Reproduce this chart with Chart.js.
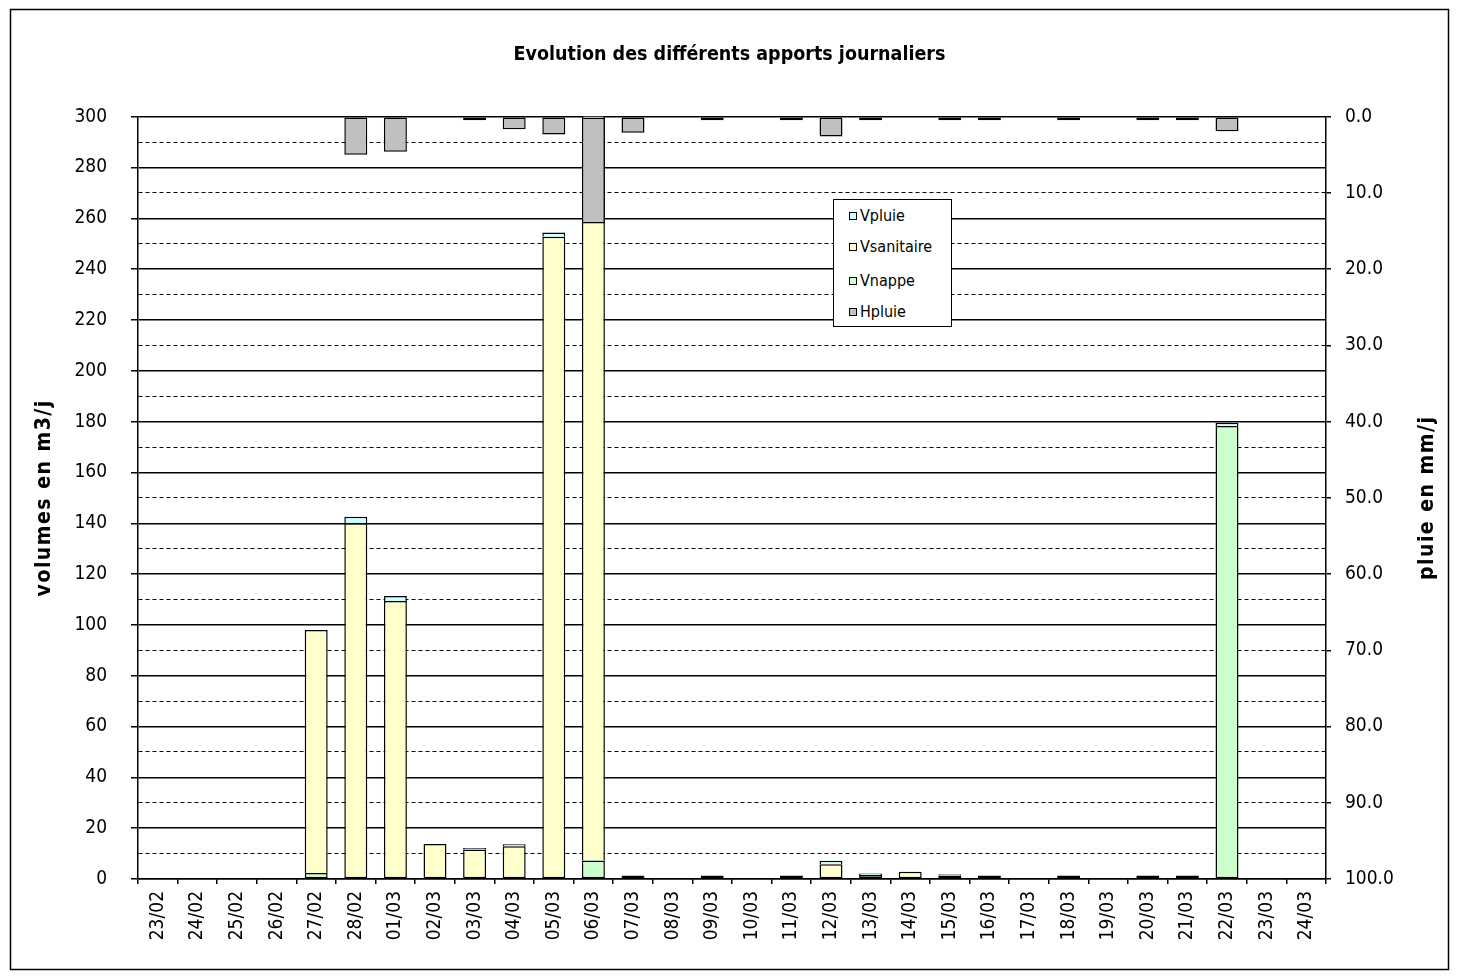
<!DOCTYPE html>
<html><head><meta charset="utf-8">
<script src="https://cdn.jsdelivr.net/npm/chart.js@4.4.1/dist/chart.umd.min.js"></script>
<style>
html,body{margin:0;padding:0;background:#fff;}
#wrap{position:relative;width:1459px;height:979px;}
canvas{display:block;}
#legend{position:absolute;left:833px;top:199px;width:117px;height:126px;border:1.5px solid #000;background:#fff;
 font-family:'DejaVu Sans Condensed','DejaVu Sans',sans-serif;font-size:16px;color:#000;}
#legend .it{position:absolute;left:15px;height:20px;line-height:20px;white-space:nowrap;}
#legend .sw{display:inline-block;width:6px;height:6px;border:1.5px solid #000;margin-right:3px;vertical-align:middle;position:relative;top:-1px;}
</style></head>
<body><div id="wrap"><canvas id="c" width="1459" height="979"></canvas><div id="legend"></div></div>
<script>
const FONT = "'DejaVu Sans Condensed','DejaVu Sans',sans-serif";
const categories = ['23/02','24/02','25/02','26/02','27/02','28/02','01/03','02/03','03/03','04/03','05/03','06/03','07/03','08/03','09/03','10/03','11/03','12/03','13/03','14/03','15/03','16/03','17/03','18/03','19/03','20/03','21/03','22/03','23/03','24/03'];
const vnappe     = [0,0,0,0,2.4,0,0,0,0,0,0,7.3,0,0,0,0,0,0,0,0,0,0,0,0,0,0,0,178.3,0,0];
const vsanitaire = [0,0,0,0,95.6,140.0,109.4,13.8,11.6,12.9,252.8,295,0,0,0.9,0,0.9,5.8,1.6,2.9,1.0,0.8,0,0.8,0,0.8,0.8,0,0,0];
const vpluie     = [0,0,0,0,0,2.6,2.0,0,0.6,0.8,1.6,3,1.4,0,0,0,0,1.4,0.6,0,0.5,0,0,0,0,0,0,1.3,0,0];
const hpluie     = [0,0,0,0,0,5.0,4.6,0,0.3,1.65,2.35,14.0,2.1,0,0.3,0,0.3,2.6,0.3,0,0.3,0.3,0,0.3,0,0.3,0.3,1.9,0,0];
const leftMax = 300, leftStep = 10, leftLabelStep = 20;
const rightMax = 100, rightStep = 10;
const titleText = 'Evolution des différents apports journaliers';
const leftTitle = 'volumes en m3/j';
const rightTitle = 'pluie en mm/j';

const nz = a => a.map(v => v === 0 ? null : v);
const barCommon = {borderColor:'#000', borderWidth:1.5, barPercentage:0.58, categoryPercentage:1.0, inflateAmount:0};
// skip the lower edge of a stacked segment only when another segment sits below it
const below = (arrs) => ctx => (arrs.some(a => a[ctx.dataIndex] > 0) ? 'start' : false);

function vText(c, text, x, y){
  c.save(); c.translate(x, y); c.rotate(-Math.PI/2);
  c.font = "bold 21px " + FONT; c.fillStyle='#000'; c.textAlign='center'; c.textBaseline='middle';
  try { c.letterSpacing = '1.5px'; } catch(e) {}
  c.fillText(text, 0, 0); c.restore();
}
const framePlugin = {
  id:'frame',
  beforeDraw(chart){
    const c = chart.ctx; c.save(); c.fillStyle='#fff'; c.fillRect(0,0,chart.width,chart.height);
    c.strokeStyle='#000'; c.lineWidth=1.5; c.strokeRect(10.5,9.5,1438,960); c.restore();
  },
  afterDraw(chart){
    const a = chart.chartArea; const cy = (a.top + a.bottom) / 2;
    vText(chart.ctx, leftTitle, 45, cy);
    vText(chart.ctx, rightTitle, 1428, cy);
  }
};

Chart.defaults.font.family = FONT;
Chart.defaults.color = '#000';
const chart = new Chart(document.getElementById('c'), {
  type:'bar',
  data:{
    labels: categories,
    datasets:[
      Object.assign({label:'Hpluie', data:nz(hpluie), backgroundColor:'#C0C0C0', yAxisID:'y2', borderSkipped:false, minBarLength:3.5}, barCommon),
      Object.assign({label:'Vnappe', data:nz(vnappe), backgroundColor:'#CCFFCC', yAxisID:'y', borderSkipped:false, minBarLength:3.5}, barCommon),
      Object.assign({label:'Vsanitaire', data:nz(vsanitaire), backgroundColor:'#FFFFCC', yAxisID:'y', borderSkipped:below([vnappe]), minBarLength:3.5}, barCommon),
      Object.assign({label:'Vpluie', data:nz(vpluie), backgroundColor:'#CCFFFF', yAxisID:'y', borderSkipped:below([vnappe, vsanitaire])}, barCommon)
    ]
  },
  options:{
    responsive:false, animation:false, devicePixelRatio:1,
    layout:{padding:{top:0,left:0,right:0,bottom:0}},
    plugins:{
      legend:{display:false}, tooltip:{enabled:false},
      title:{display:true, text:titleText, color:'#000',
        font:{size:19.5, weight:'bold', family:FONT}, padding:{top:43.3,bottom:50}}
    },
    scales:{
      x:{stacked:true,
        ticks:{minRotation:90, maxRotation:90, autoSkip:false, padding:7, font:{size:19}},
        grid:{drawOnChartArea:false, tickLength:5, color:'#000', lineWidth:1.5},
        border:{color:'#000', width:1.5},
        afterFit(s){ s.height = 100; }
      },
      y:{position:'left', stacked:true, min:0, max:leftMax,
        ticks:{stepSize:leftStep, autoSkip:false, padding:24, font:{size:19},
          callback:v => (v % leftLabelStep === 0 ? v : '')},
        grid:{color:'#000', lineWidth:ctx => (ctx.tick && ctx.tick.value % leftLabelStep === 0 ? 1.5 : 1),
          tickLength:7, tickColor:ctx => (ctx.tick && ctx.tick.value % leftLabelStep === 0 ? '#000' : 'rgba(0,0,0,0)')},
        border:{color:'#000', width:1.5, dash:ctx => (ctx.tick && ctx.tick.value % leftLabelStep !== 0 ? [4,3] : [])},
        afterFit(s){ s.width = 138; }
      },
      y2:{position:'right', reverse:true, min:0, max:rightMax,
        ticks:{stepSize:rightStep, autoSkip:false, padding:14, font:{size:19}, callback:v => Number(v).toFixed(1)},
        grid:{drawOnChartArea:false, tickLength:5, color:'#000', lineWidth:1.5},
        border:{color:'#000', width:1.5},
        afterFit(s){ s.width = 133; }
      }
    }
  },
  plugins:[framePlugin]
});

const lg = document.getElementById('legend');
const tops = [6, 37, 71, 102];
chart.data.datasets.slice().reverse().forEach((ds, i) => {
  const d = document.createElement('div'); d.className='it'; d.style.top = tops[i] + 'px';
  const sw = document.createElement('span'); sw.className='sw'; sw.style.background = ds.backgroundColor;
  d.appendChild(sw); d.appendChild(document.createTextNode(ds.label)); lg.appendChild(d);
});
</script>
</body></html>
